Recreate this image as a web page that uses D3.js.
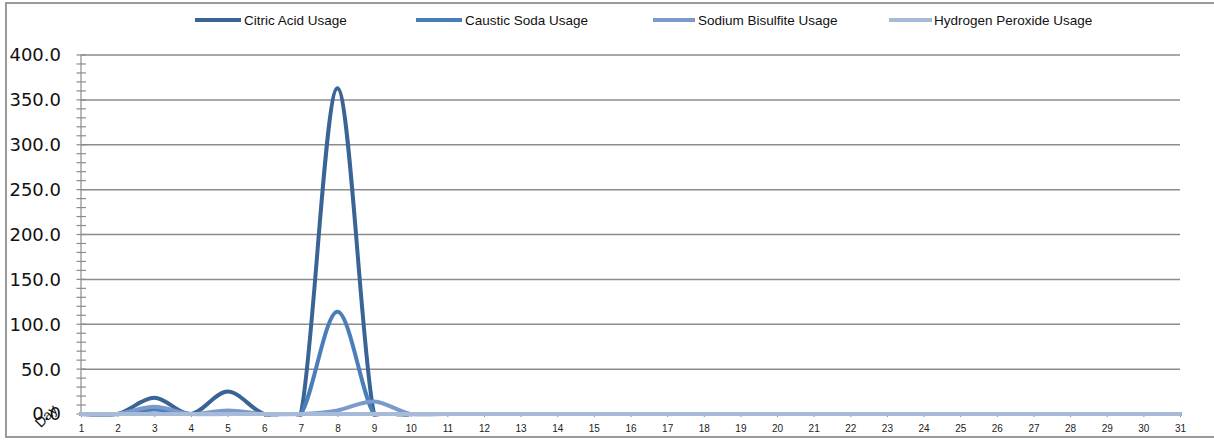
<!DOCTYPE html>
<html>
<head>
<meta charset="utf-8">
<script src="https://cdn.jsdelivr.net/npm/d3@7"></script>
<style>
  html, body { margin: 0; padding: 0; background: #fff; }
  svg { display: block; }
</style>
</head>
<body>
<svg id="chart" width="1214" height="440"></svg>
<script>
const days = d3.range(1, 32);
const seriesNames = ["Citric Acid Usage", "Caustic Soda Usage", "Sodium Bisulfite Usage", "Hydrogen Peroxide Usage"];
const citric =   [0,0,18,0,25,0,0,363,0,0,0,0,0,0,0,0,0,0,0,0,0,0,0,0,0,0,0,0,0,0,0];
const caustic =  [0,0,5,0,0,0,0,114,0,0,0,0,0,0,0,0,0,0,0,0,0,0,0,0,0,0,0,0,0,0,0];
const sodium =   [0,0,8,0,4,0,0,4,14,0,0,0,0,0,0,0,0,0,0,0,0,0,0,0,0,0,0,0,0,0,0];
const peroxide = [0,0,0,0,0,0,0,0,0,0,0,0,0,0,0,0,0,0,0,0,0,0,0,0,0,0,0,0,0,0,0];
const yTicks = [0, 50, 100, 150, 200, 250, 300, 350, 400];
const colors = ["#3A6496", "#4A7EBB", "#7B9ACB", "#A7BAD7"];
const allSeries = [citric, caustic, sodium, peroxide];

const svg = d3.select("#chart");

// outer chart border
svg.append("rect").attr("x", 6).attr("y", 3).attr("width", 1240).attr("height", 434)
  .attr("fill", "none").attr("stroke", "#9a9a9a").attr("stroke-width", 2);

const x = d3.scalePoint().domain(days).range([81, 1180]);
const y = d3.scaleLinear().domain([0, 400]).range([414, 55]);

svg.append("defs").append("clipPath").attr("id", "plotClip")
  .append("rect").attr("x", 70).attr("y", 40).attr("width", 1125).attr("height", y(0) + 2.5 - 40);

// gridlines
svg.append("g").selectAll("line").data(yTicks.filter(d => d > 0)).join("line")
  .attr("x1", 81).attr("x2", 1180)
  .attr("y1", d => y(d)).attr("y2", d => y(d))
  .attr("stroke", "#8c8c8c").attr("stroke-width", 1.5);

// y axis with crossing major/minor ticks
const yAxisG = svg.append("g").attr("transform", "translate(81,0)");
yAxisG.append("line").attr("y1", y(0)).attr("y2", y(400)).attr("stroke", "#8c8c8c").attr("stroke-width", 1.2);
yAxisG.selectAll("line.minor").data(d3.range(0, 401, 10)).join("line").attr("class", "minor")
  .attr("x1", -4.5).attr("x2", 5).attr("y1", d => y(d)).attr("y2", d => y(d))
  .attr("stroke", "#8c8c8c").attr("stroke-width", 1.2);
yAxisG.selectAll("text").data(yTicks).join("text")
  .attr("x", -20).attr("y", d => y(d)).attr("dy", "0.36em")
  .attr("text-anchor", "end")
  .attr("font-family", "DejaVu Sans").attr("font-size", 18).attr("fill", "#111")
  .text(d => d.toFixed(1));

// x axis
const xAxis = d3.axisBottom(x).tickSize(3).tickPadding(8);
const xAxisG = svg.append("g").attr("transform", `translate(0,${y(0)})`).call(xAxis);
xAxisG.select(".domain").attr("stroke", "#8c8c8c").attr("stroke-width", 1.2).attr("d", `M81,0H1180`);
xAxisG.selectAll(".tick line").attr("stroke", "#8c8c8c");
xAxisG.selectAll(".tick text").attr("font-family", "Liberation Sans, Arial").attr("font-size", 10).attr("fill", "#222");

// "Day" axis title rotated
svg.append("text").attr("transform", "translate(46,416) rotate(-45)")
  .attr("text-anchor", "middle").attr("dy", "0.35em")
  .attr("font-family", "Liberation Sans, Arial").attr("font-size", 14).attr("fill", "#111")
  .text("Day");

// lines (Excel-style smoothing, clipped to plot area)
const line = d3.line()
  .x((d, i) => x(days[i]))
  .y(d => y(d))
  .curve(d3.curveCardinal.tension(0));

svg.append("g").attr("clip-path", "url(#plotClip)")
  .selectAll("path").data(allSeries).join("path")
  .attr("d", d => line(d))
  .attr("fill", "none")
  .attr("stroke", (d, i) => colors[i])
  .attr("stroke-width", 4)
  .attr("stroke-linejoin", "round")
  .attr("stroke-linecap", "round");

// legend
const swatchX = [[195, 241], [416, 462], [653, 695], [889, 932]];
const textX = [244, 465, 698, 934];
const lg = svg.append("g").selectAll("g").data(seriesNames).join("g");
lg.append("line").attr("x1", (d, i) => swatchX[i][0]).attr("x2", (d, i) => swatchX[i][1])
  .attr("y1", 20).attr("y2", 20)
  .attr("stroke", (d, i) => colors[i]).attr("stroke-width", 4);
lg.append("text").attr("x", (d, i) => textX[i]).attr("y", 20).attr("dy", "0.35em")
  .attr("font-family", "Liberation Sans, Arial").attr("font-size", 13.5).attr("fill", "#111")
  .text(d => d);
</script>
</body>
</html>
